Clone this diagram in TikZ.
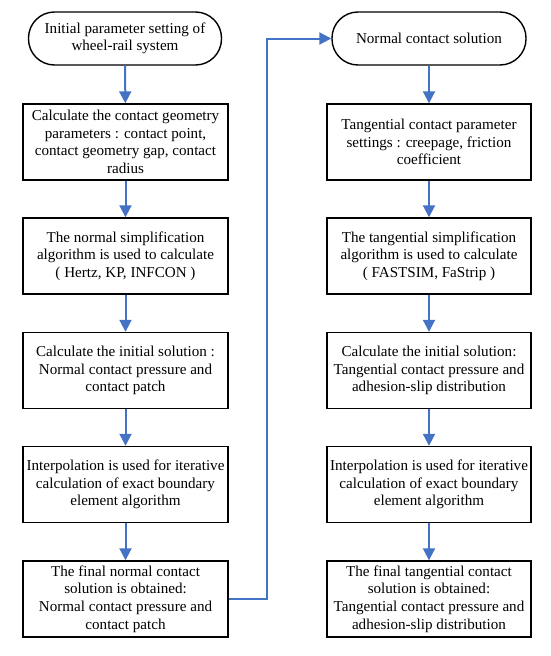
\documentclass[tikz,border=0pt]{standalone}
\usepackage{fontspec}
\setmainfont{Liberation Serif}
\usetikzlibrary{arrows.meta}
\definecolor{arrowblue}{HTML}{4472C4}
\begin{document}
\begin{tikzpicture}[x=1pt,y=-1pt,
  box/.style={draw=black,line width=1.4pt,fill=white,minimum width=205pt,minimum height=76pt,
    align=center,inner sep=2pt,font=\fontsize{15.1}{17.6}\selectfont},
  term/.style={draw=black,line width=1.4pt,fill=white,minimum width=193pt,minimum height=53pt,
    rounded corners=26pt,align=center,inner sep=2pt,font=\fontsize{15.1}{17.6}\selectfont},
  flow/.style={draw=arrowblue,line width=2pt,-{Triangle[width=12pt,length=12pt]}}]
\useasboundingbox (0,0) rectangle (550,656);
% left column
\node[term] (L0) at (125,38.5) {Initial parameter setting of\\wheel-rail system};
\node[box] (L1) at (125.5,142) {Calculate the contact geometry\\parameters : contact point,\\contact geometry gap, contact\\radius};
\node[box] (L2) at (125.5,256) {The normal simplification\\algorithm is used to calculate\\( Hertz, KP, INFCON )};
\node[box] (L3) at (125.5,370.5) {Calculate the initial solution :\\Normal contact pressure and\\contact patch};
\node[box] (L4) at (125.5,484.5) {Interpolation is used for iterative\\calculation of exact boundary\\element algorithm};
\node[box] (L5) at (125.5,599) {The final normal contact\\solution is obtained:\\Normal contact pressure and\\contact patch};
% right column
\node[term,minimum width=194pt] (R0) at (429,38.5) {Normal contact solution};
\node[box,minimum width=204pt] (R1) at (429,142) {Tangential contact parameter\\settings : creepage, friction\\coefficient};
\node[box,minimum width=204pt] (R2) at (429,256) {The tangential simplification\\algorithm is used to calculate\\( FASTSIM, FaStrip )};
\node[box,minimum width=204pt] (R3) at (429,370.5) {Calculate the initial solution:\\Tangential contact pressure and\\adhesion-slip distribution};
\node[box,minimum width=204pt] (R4) at (429,484.5) {Interpolation is used for iterative\\calculation of exact boundary\\element algorithm};
\node[box,minimum width=204pt] (R5) at (429,599) {The final tangential contact\\solution is obtained:\\Tangential contact pressure and\\adhesion-slip distribution};
% connectors
\draw[flow] (L0) -- (L1);
\draw[flow] (L1) -- (L2);
\draw[flow] (L2) -- (L3);
\draw[flow] (L3) -- (L4);
\draw[flow] (L4) -- (L5);
\draw[flow] (R0) -- (R1);
\draw[flow] (R1) -- (R2);
\draw[flow] (R2) -- (R3);
\draw[flow] (R3) -- (R4);
\draw[flow] (R4) -- (R5);
\coordinate (bend) at (267,599);
\draw[flow] (L5.east) -- (bend) |- (R0.west);
\end{tikzpicture}
\end{document}
